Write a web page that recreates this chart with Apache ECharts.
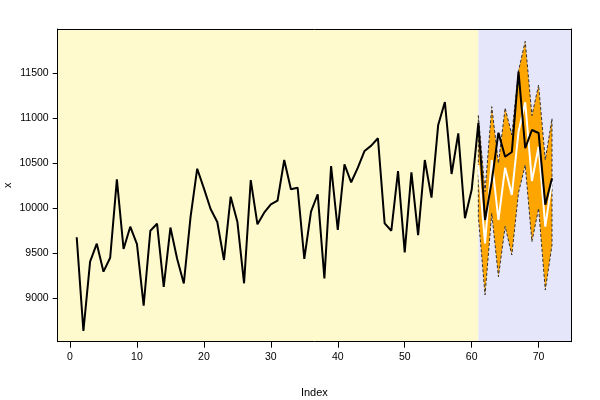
<!DOCTYPE html>
<html>
<head>
<meta charset="utf-8">
<script src="https://cdn.jsdelivr.net/npm/echarts@6/dist/echarts.min.js"></script>
<style>html,body{margin:0;padding:0;background:#fff}#c{width:600px;height:400px}</style>
</head>
<body>
<div id="c"></div>
<script>
// ---- data ----
var actual = [9678, 8637, 9407, 9607, 9296, 9451, 10322, 9548, 9796, 9603,
  8918, 9751, 9829, 9126, 9786, 9440, 9165, 9900, 10440, 10222,
  9992, 9848, 9426, 10129, 9851, 9167, 10314, 9822, 9951, 10044,
  10084, 10537, 10211, 10229, 9437, 9962, 10156, 9222, 10470, 9759,
  10489, 10289, 10451, 10637, 10696, 10778, 9833, 9751, 10414, 9511,
  10400, 9703, 10537, 10118, 10926, 11181, 10381, 10833, 9889, 10205,
  10948, 9870, 10300, 10840, 10573, 10625, 11518, 10667, 10870, 10837, 10040, 10333];
var forecastStart = 61;
var forecast = [10481, 9611, 10537, 9870, 10451, 10148, 10851, 11178, 10303, 10684, 9796, 10296];
var upper = [11030, 10185, 11129, 10500, 11115, 10815, 11527, 11855, 11030, 11370, 10537, 10996];
var lower = [9907, 9037, 9945, 9240, 9800, 9481, 10175, 10481, 9629, 10000, 9092, 9592];
var xTicks = [0, 10, 20, 30, 40, 50, 60, 70];
var yTicks = [9000, 9500, 10000, 10500, 11000, 11500];

var xMin = -1.84, xMax = 74.84, yMin = 8518, yMax = 11992;
var fx = forecast.map(function (v, k) { return forecastStart + k; });
var actualData = actual.map(function (v, k) { return [k + 1, v]; });
var fcData = forecast.map(function (v, k) { return [fx[k], v]; });
var bandData = upper.map(function (u, k) { return [fx[k], lower[k], u]; });

var font = 'Liberation Sans, Arial, sans-serif';
var plain = function (v) { return String(v); };
var chart = echarts.init(document.getElementById('c'), null, {renderer: 'canvas'});
chart.setOption({
  animation: false,
  grid: {left: 57.7, right: 29, top: 29, bottom: 58.3, containLabel: false, outerBoundsMode: 'none'},
  xAxis: [{
    type: 'value', min: xMin, max: xMax, position: 'bottom', z: 10,
    name: 'Index', nameLocation: 'middle', nameGap: 46, nameMoveOverlap: false,
    nameTextStyle: {fontFamily: font, fontSize: 11, color: '#000'},
    splitLine: {show: false},
    axisLine: {show: true, onZero: false, lineStyle: {color: '#000', width: 1}},
    axisTick: {show: true, length: 6, customValues: xTicks, lineStyle: {color: '#000'}},
    axisLabel: {customValues: xTicks, formatter: plain, margin: 10, fontFamily: font, fontSize: 10.5, color: '#000'}
  }, {
    type: 'value', min: xMin, max: xMax, position: 'top', z: 10,
    splitLine: {show: false}, axisTick: {show: false}, axisLabel: {show: false},
    axisLine: {show: true, onZero: false, lineStyle: {color: '#000', width: 1}}
  }],
  yAxis: [{
    type: 'value', min: yMin, max: yMax, position: 'left', z: 10,
    name: 'x', nameLocation: 'middle', nameGap: 44, nameRotate: 90, nameMoveOverlap: false,
    nameTextStyle: {fontFamily: font, fontSize: 11, color: '#000'},
    splitLine: {show: false},
    axisLine: {show: true, onZero: false, lineStyle: {color: '#000', width: 1}},
    axisTick: {show: true, length: 5, customValues: yTicks, lineStyle: {color: '#000'}},
    axisLabel: {customValues: yTicks, formatter: plain, margin: 9, fontFamily: font, fontSize: 10.5, color: '#000'}
  }, {
    type: 'value', min: yMin, max: yMax, position: 'right', z: 10,
    splitLine: {show: false}, axisTick: {show: false}, axisLabel: {show: false},
    axisLine: {show: true, onZero: false, lineStyle: {color: '#000', width: 1}}
  }],
  series: [{
    type: 'custom',
    z: 3,
    silent: true,
    data: bandData,
    encode: {x: 0, y: [1, 2]},
    renderItem: function (params, api) {
      if (params.dataIndex !== 0) return null;
      var pts = [];
      for (var k = 0; k < upper.length; k++) pts.push(api.coord([fx[k], upper[k]]));
      for (var j = lower.length - 1; j >= 0; j--) pts.push(api.coord([fx[j], lower[j]]));
      return {
        type: 'polygon',
        shape: {points: pts},
        style: {fill: '#FFA500', stroke: '#333', lineWidth: 1, lineDash: [3, 2]}
      };
    }
  }, {
    type: 'line', z: 4, silent: true,
    data: fcData, showSymbol: false,
    lineStyle: {color: '#fff', width: 2}
  }, {
    type: 'line', z: 5, silent: true,
    data: actualData, showSymbol: false,
    lineStyle: {color: '#000', width: 2},
    markArea: {
      silent: true,
      data: [
        [{xAxis: xMin, itemStyle: {color: '#FFFACD'}}, {xAxis: forecastStart}],
        [{xAxis: forecastStart, itemStyle: {color: '#E6E6FA'}}, {xAxis: xMax}]
      ]
    }
  }]
});
</script>
</body>
</html>
